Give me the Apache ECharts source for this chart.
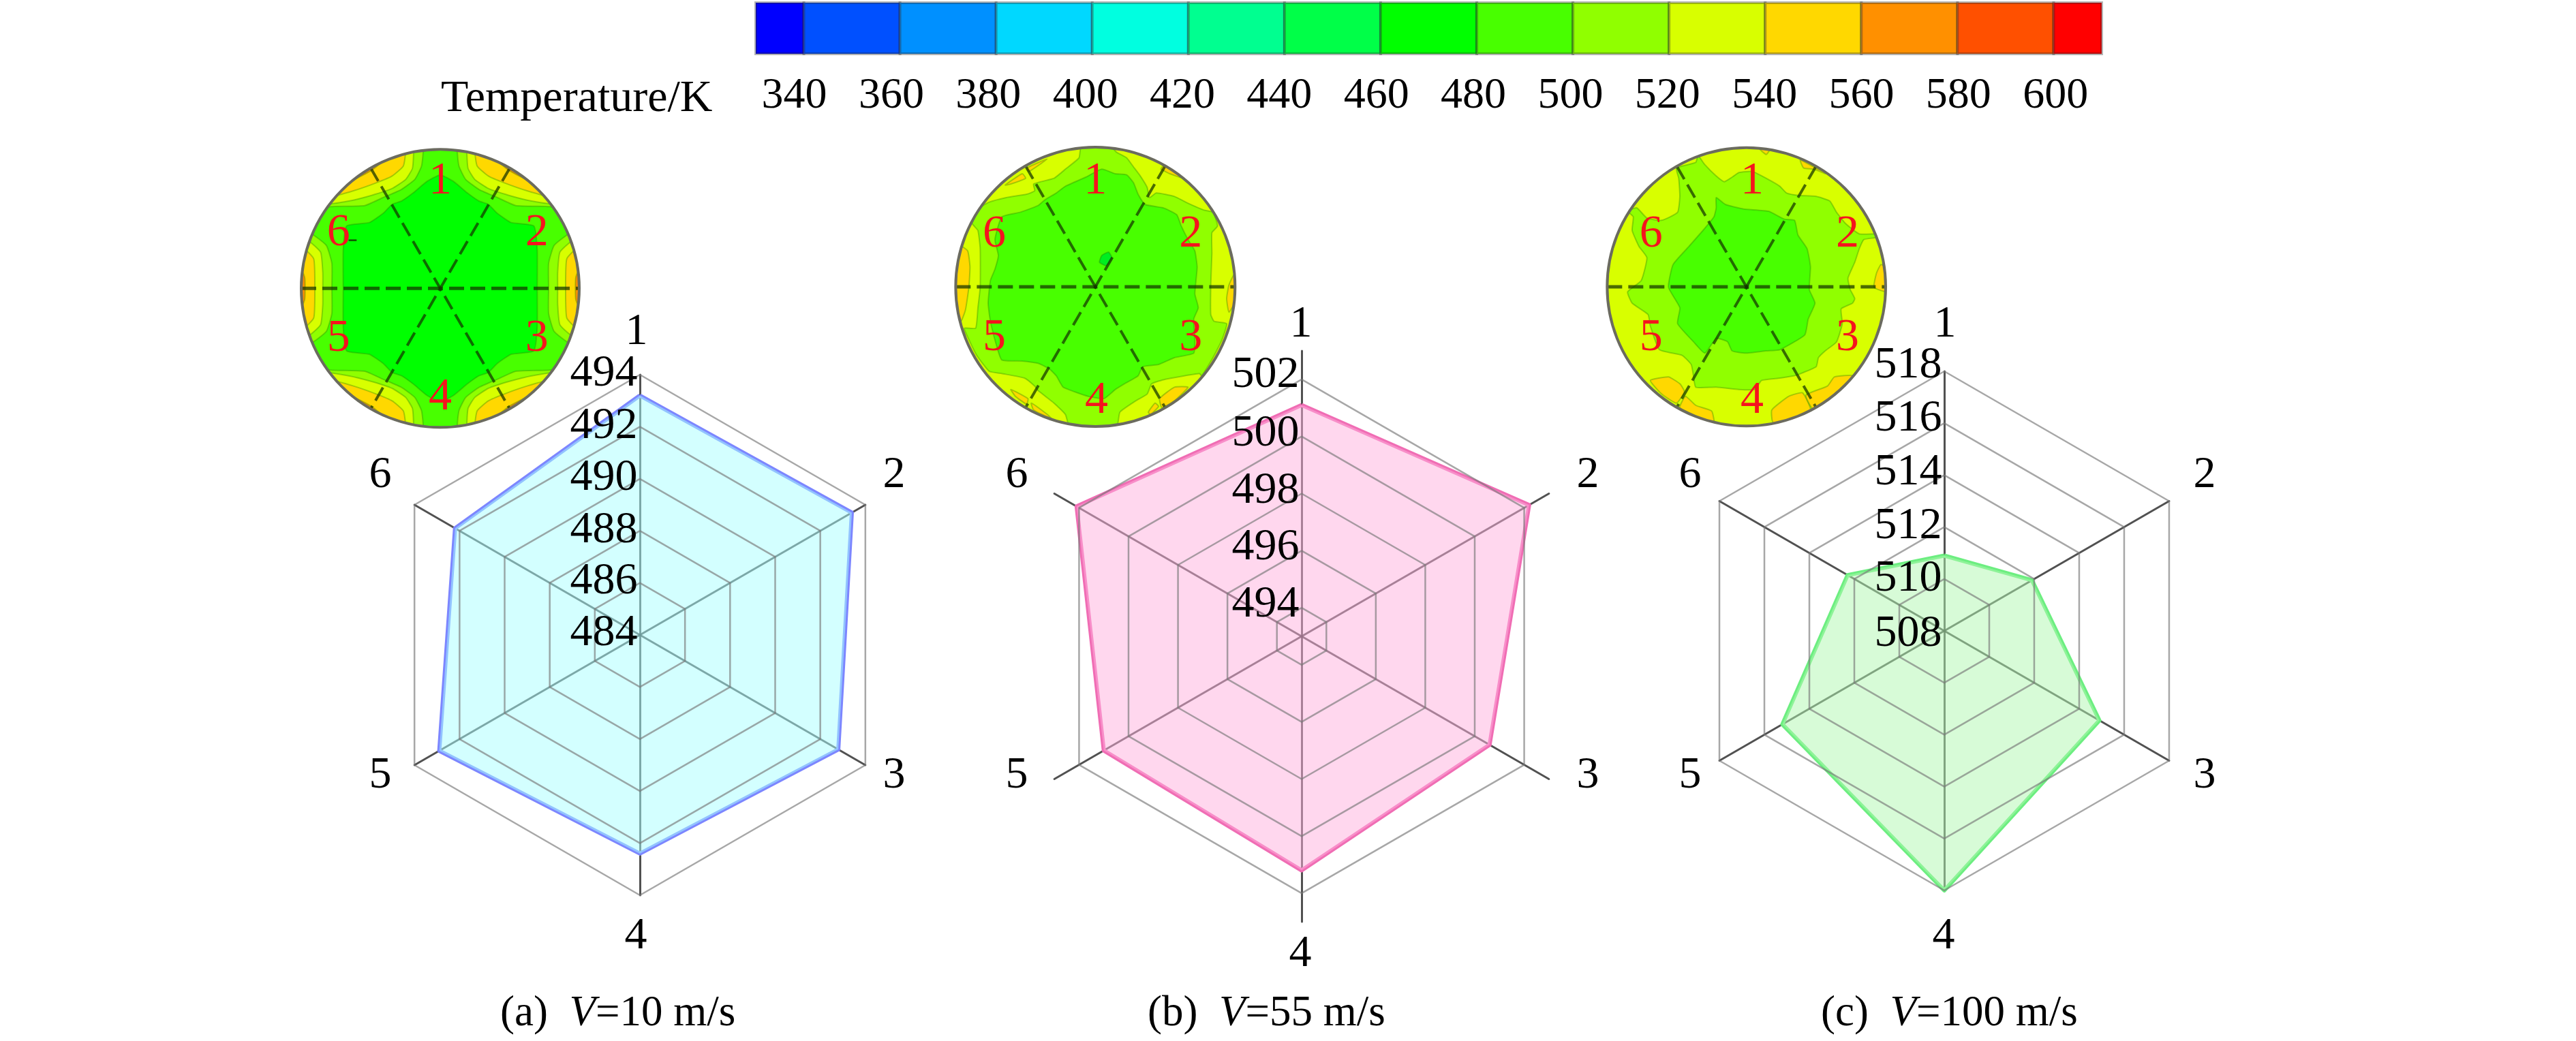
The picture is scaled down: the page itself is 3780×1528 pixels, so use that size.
<!DOCTYPE html>
<html><head><meta charset="utf-8"><style>html,body{margin:0;background:#fff}#c{width:3780px;height:1528px}</style>
<script src="https://cdn.jsdelivr.net/npm/echarts@6/dist/echarts.min.js"></script></head>
<body><div id="c"></div><script>
// ---------- data ----------
const sectorNames = ['1','6','5','4','3','2'];           // radar runs counter-clockwise from the top
const valuesA = [493.2,492.2,492.9,492.4,492.8,493.4];
const valuesB = [501.1,502.1,501.0,501.2,500.6,502.2];
const valuesC = [510.9,512.3,515.2,518.0,514.9,511.9];
const ringsA = [484,486,488,490,492,494];
const ringsB = [494,496,498,500,502];
const ringsC = [508,510,512,514,516,518];
const ringNudgeA = [-2,-2,-1,-1,-1,-1];
const ringNudgeB = [-4,-5,-4,-4,-6];
const ringNudgeC = [5,0,-1,-4,-7,-8];
const legendEdges = [330,340,360,380,400,420,440,460,480,500,520,540,560,580,600,610];
const legendColors = ['#0000FF','#0050FF','#0090FF','#00D8FF','#00FFE0','#00FF90','#00FF48','#00FF00','#48FF00','#90FF00','#D8FF00','#FFD800','#FF9000','#FF5000','#FF0000'];
const captions = [['(a)  ','10 m/s'],['(b)  ','55 m/s'],['(c)  ','100 m/s']];
const captionLeft = [729,1679,2667];
const nameOrder = ['1','2','3','4','5','6'];
const nameSpotsA = [[934,488],[1312,698],[1312,1139],[933,1375],[558,1139],[558,698]];
const nameSpotsB = [[1909,477],[2330,698],[2330,1139],[1908,1401],[1492,1139],[1492,698]];
const nameSpotsC = [[2854,477],[3235,698],[3235,1139],[2852,1375],[2480,1139],[2480,698]];

// contour outlines of the insets (inset units)
const aCore = [[0,-500],[60,-470],[120,-420],[170,-385],[212,-370],[252,-330],[312,-290],[412,-275],[427,-170],[427,0]];
const aCornerLevels = [
 ['#90FF00',[[77,-640],[82,-540],[112,-480],[172,-435],[252,-400],[332,-365],[482,-360],[560,-345],[640,-420],[420,-640],[170,-690]]],
 ['#D8FF00',[[120,-640],[122,-530],[152,-480],[212,-440],[302,-410],[402,-385],[520,-370],[640,-420],[420,-640],[190,-690]]],
 ['#FFD800',[[152,-640],[162,-540],[212,-495],[282,-465],[382,-430],[480,-405],[640,-420],[420,-640],[210,-690]]],
 ['#FF9000',[[225,-590],[302,-520],[392,-472],[460,-440],[640,-440],[420,-660],[260,-660]]]
];
const aSideLevels = [
 ['#90FF00',[[590,-250],[502,-190],[477,-110],[477,0],[477,110],[502,190],[590,250],[700,110],[700,0],[700,-110]]],
 ['#D8FF00',[[600,-220],[527,-160],[517,-70],[517,0],[517,70],[527,160],[600,220],[700,110],[700,0],[700,-110]]],
 ['#FFD800',[[610,-180],[557,-130],[552,0],[557,130],[610,180],[700,70],[700,0],[700,-70]]],
 ['#FF9000',[[625,-110],[597,-50],[595,0],[597,50],[625,110],[700,0]]]
];
const aStub = [[-403,-216],[-368,-216],[-368,-208],[-403,-208]];
const bLime = [[590,30],[580,80],[520,130],[470,170],[380,195],[385,225],[350,240],[260,255],[185,275],[150,295],[120,340],[110,370],[135,400],[145,480],[145,650],[135,740],[125,830],[75,830],[95,880],[130,950],[185,1020],[240,1030],[340,1050],[385,1085],[400,1105],[470,1160],[520,1210],[540,1265],[745,1265],[760,1200],[830,1150],[880,1120],[900,1075],[960,1055],[1110,1030],[1120,1040],[1170,960],[1210,880],[1230,810],[1175,800],[1160,770],[1160,640],[1165,500],[1165,410],[1190,380],[1170,320],[1130,310],[1060,280],[1000,250],[920,235],[890,255],[880,210],[850,160],[820,120],[790,80],[745,55],[720,30]];
const bCore = [[680,130],[740,150],[790,155],[820,190],[840,240],[870,285],[950,300],[1010,330],[1030,380],[1060,440],[1090,490],[1100,560],[1095,620],[1090,680],[1105,740],[1085,790],[1090,870],[1085,940],[1000,960],[930,990],[860,1000],[840,1040],[780,1075],[740,1100],[690,1140],[620,1130],[560,1110],[510,1090],[480,1040],[450,1010],[400,985],[330,975],[240,970],[215,900],[190,800],[180,720],[190,620],[210,570],[225,510],[210,440],[240,340],[320,320],[400,290],[430,265],[480,235],[520,205],[610,165]];
const bHot = [
 [[90,490],[60,470],[30,600],[35,730],[60,800],[80,750],[95,650],[100,560]],
 [[1240,640],[1230,700],[1240,760],[1275,700],[1280,640],[1265,590]],
 [[360,140],[440,85],[350,125]],
 [[255,200],[330,150],[345,170],[280,195]],
 [[940,130],[960,105],[1040,170],[980,150],[950,135]],
 [[280,1100],[355,1140],[350,1165],[300,1130]],
 [[370,1160],[440,1210],[460,1230],[380,1190]],
 [[935,1140],[1000,1090],[1060,1090],[1000,1150],[945,1180]],
 [[885,1200],[915,1160],[930,1175],[895,1210]]
];
const bCoolSpot = [[680,510],[710,495],[725,520],[700,555],[670,540]];
const cLime = [[440,70],[470,110],[520,160],[555,185],[590,165],[620,145],[680,140],[740,170],[800,205],[830,235],[880,245],[960,250],[1020,270],[1050,320],[1090,370],[1150,415],[1235,415],[1230,430],[1170,440],[1150,480],[1130,540],[1100,610],[1110,660],[1130,700],[1120,720],[1070,745],[1075,810],[1050,890],[1000,930],[970,960],[960,1000],[880,1035],[860,1040],[800,1050],[720,1060],[690,1100],[620,1100],[520,1090],[430,1090],[420,1040],[410,990],[370,950],[270,925],[230,820],[220,770],[150,720],[130,670],[190,620],[215,520],[180,470],[150,400],[155,340],[130,315],[170,300],[215,345],[280,355],[350,320],[360,250],[355,170],[345,125],[430,100]];
const cCore = [[520,255],[560,285],[640,305],[750,315],[820,350],[865,355],[880,420],[920,480],[935,560],[930,660],[955,720],[925,790],[910,860],[800,925],[740,930],[650,940],[590,930],[570,890],[520,875],[470,940],[420,890],[350,810],[360,740],[310,650],[330,550],[400,470],[470,390],[510,340],[520,300]];
const cHot = [
 [[230,1060],[310,1045],[360,1075],[380,1110],[345,1160],[280,1120]],
 [[385,1130],[430,1170],[500,1195],[510,1250],[440,1220],[360,1180]],
 [[765,1190],[840,1130],[900,1115],[935,1190],[850,1240],[770,1245]],
 [[915,1125],[1010,1085],[1040,1045],[1125,1040],[1080,1120],[950,1190]],
 [[1225,590],[1245,550],[1275,570],[1275,670],[1215,650]],
 [[890,90],[940,115],[1000,150],[950,130],[905,125]],
 [[710,40],[755,45],[740,65]]
];
const labelXYA = [[0,-473],[425,-245],[425,220],[0,480],[-448,220],[-448,-245]];
const labelXYB = [[0,-465],[420,-230],[420,225],[5,500],[-445,225],[-445,-230]];
const labelXYC = [[25,-465],[445,-230],[445,225],[25,500],[-420,225],[-420,-230]];
const labelNames = ['1','2','3','4','5','6'];

// ---------- inset layers ----------
const flips = [[1,1],[-1,1],[1,-1],[-1,-1]];
const flip = (pts,f) => pts.map(p => [p[0]*f[0], p[1]*f[1]]);
function insetALayers(){
  const out = [{fill:'#48FF00', base:true}];
  aCornerLevels.forEach(l => flips.forEach(f => out.push({fill:l[0], pts:flip(l[1],f)})));
  aSideLevels.forEach(l => [[1,1],[-1,1]].forEach(f => out.push({fill:l[0], pts:flip(l[1],f)})));
  const core = aCore.concat(flip(aCore,[1,-1]).reverse().slice(1), flip(aCore,[-1,-1]).slice(1), flip(aCore,[-1,1]).reverse().slice(1,-1));
  out.push({fill:'#00FF00', pts:core});
  return out;
}
function insetBLayers(){
  return [{fill:'#D8FF00', base:true}]
   .concat(bHot.map(p => ({fill:'#FFD800', pts:p})))
   .concat([{fill:'#90FF00', pts:bLime},{fill:'#48FF00', pts:bCore},{fill:'#00EE20', pts:bCoolSpot}]);
}
function insetCLayers(){
  return [{fill:'#D8FF00', base:true}]
   .concat(cHot.map(p => ({fill:'#FFD800', pts:p})))
   .concat([{fill:'#90FF00', pts:cLime},{fill:'#48FF00', pts:cCore}]);
}
const SERIF = 'Liberation Serif';
const insets = [
 {box:[430,200,460], x:[-648,732], y:[-670,710], c:[0,0],     R:612, labels:labelXYA, layers:insetALayers(), stub:aStub},
 {box:[1390,205,440],x:[0,1320],   y:[0,1320],   c:[652,648], R:615, labels:labelXYB, layers:insetBLayers()},
 {box:[2345,205,440],x:[0,1320],   y:[0,1320],   c:[653,648], R:613, labels:labelXYC, layers:insetCLayers()}
];
function insetSeries(ins, gi){
  const items = [];
  ins.layers.forEach(l => items.push(l));
  [0,60,120].forEach(a => items.push({spoke:a}));
  if (ins.stub) items.push({fill:'rgba(20,50,0,0.8)', pts:ins.stub, plain:true});
  items.push({outline:true});
  ins.labels.forEach((p,i) => items.push({text:labelNames[i], at:[ins.c[0]+p[0], ins.c[1]+p[1]]}));
  return {type:'custom', coordinateSystem:'cartesian2d', xAxisIndex:gi+2, yAxisIndex:gi+2, silent:true, z:5,
    data: items.map((_,i)=>[i]),
    encode:{x:0,y:0},
    renderItem(params, api){
      const it = items[api.value(0)];
      const ctr = api.coord(ins.c);
      const rpx = Math.abs(api.coord([ins.c[0]+ins.R, ins.c[1]])[0]-ctr[0]);
      const clip = {type:'circle', shape:{cx:ctr[0],cy:ctr[1],r:rpx}};
      if (it.base) return {type:'circle', shape:{cx:ctr[0],cy:ctr[1],r:rpx}, style:{fill:it.fill}};
      if (it.plain) return {type:'polygon', shape:{points:it.pts.map(p=>api.coord(p))}, style:{fill:it.fill}};
      if (it.pts) return {type:'polygon', shape:{points:it.pts.map(p=>api.coord(p)), smooth:0.15}, style:{fill:it.fill, stroke:'rgba(40,130,0,0.35)', lineWidth:2}, clipPath:clip};
      if (it.spoke!==undefined){
        const t = it.spoke*Math.PI/180, dx = Math.cos(t)*ins.R, dy = Math.sin(t)*ins.R;
        const a = api.coord([ins.c[0]-dx,ins.c[1]-dy]), b = api.coord([ins.c[0]+dx,ins.c[1]+dy]);
        return {type:'line', shape:{x1:a[0],y1:a[1],x2:b[0],y2:b[1]}, style:{stroke:'rgba(20,50,0,0.72)', lineWidth:it.spoke===0?5:4, lineDash:[22,9]}};
      }
      if (it.outline) return {type:'circle', shape:{cx:ctr[0],cy:ctr[1],r:rpx}, style:{fill:'none', stroke:'#6b6b5f', lineWidth:4}};
      const pos = api.coord(it.at);
      return {type:'text', style:{text:it.text, x:pos[0], y:pos[1], fill:'#F5141E', font:'68px "'+SERIF+'"', align:'center', verticalAlign:'middle'}};
    }};
}

// ---------- radars ----------
const panels = [
 {center:[939,932],  r:382, min:484, max:494, values:valuesA, rings:ringsA, nudge:ringNudgeA, names:nameSpotsA, line:'#7C86FF', fill:'#A8FFFF'},
 {center:[1910,934], r:419, min:493, max:503, values:valuesB, rings:ringsB, nudge:ringNudgeB, names:nameSpotsB, line:'#F06DB4', fill:'#FFB0DD'},
 {center:[2853,926], r:381, min:508, max:518, values:valuesC, rings:ringsC, nudge:ringNudgeC, names:nameSpotsC, line:'#6CEE80', fill:'#B0F8B0'}
];
const radar = panels.map(p => ({
  center:p.center, radius:[0,p.r], startAngle:90, shape:'polygon', splitNumber:5,
  indicator:sectorNames.map(n => ({name:n, min:p.min, max:p.max})),
  axisName:{show:false},
  axisLine:{show:true, lineStyle:{color:'rgba(50,50,50,0.85)', width:3}},
  splitLine:{show:false}, splitArea:{show:false}, axisTick:{show:false}, axisLabel:{show:false}
}));
const radarSeries = [];
panels.forEach((p,i) => {
  radarSeries.push({type:'radar', radarIndex:i, symbol:'none', z:2,
    lineStyle:{color:p.line, width:6}, areaStyle:{color:p.fill, opacity:0.5},
    data:[{value:p.values}]});
  radarSeries.push({type:'radar', radarIndex:i, z:3, symbol:'circle', symbolSize:1,
    itemStyle:{color:'rgba(0,0,0,0)'},
    lineStyle:{color:'rgba(120,120,120,0.65)', width:2.5},
    data:p.rings.map((v,k) => ({value:sectorNames.map(()=>v),
      label:{show:true, position:'left', distance:3, offset:[0,p.nudge[k]], color:'#000', fontFamily:SERIF, fontSize:66,
        formatter:o => o.dimensionIndex===0 ? String(v) : ''}}))});
});

// ---------- option ----------
const legendData = legendColors.map((c,i)=>[legendEdges[i],legendEdges[i+1],i]);
const grids = [{left:1109,top:4,width:1975,height:75},{left:1165.6,top:100,width:1850.6,height:1}]
  .concat(insets.map(s=>({left:s.box[0],top:s.box[1],width:s.box[2],height:s.box[2]})));
const xAxes = [
  {gridIndex:0,type:'value',min:330,max:610,show:false},
  {gridIndex:1,type:'value',min:340,max:600,interval:20,axisLine:{show:false},axisTick:{show:false},splitLine:{show:false},
   axisLabel:{color:'#000',fontFamily:SERIF,fontSize:64,margin:8,showMinLabel:true,showMaxLabel:true}}
].concat(insets.map((s,i)=>({gridIndex:i+2,type:'value',min:s.x[0],max:s.x[1],show:false})));
const yAxes = [
  {gridIndex:0,type:'value',min:0,max:1,show:false},
  {gridIndex:1,type:'value',min:0,max:1,show:false}
].concat(insets.map((s,i)=>({gridIndex:i+2,type:'value',min:s.y[0],max:s.y[1],inverse:true,show:false})));

const nameTitles = [];
panels.forEach(p => nameOrder.forEach((n,i) => nameTitles.push({
  text:n, left:p.names[i][0], top:p.names[i][1], textAlign:'center', textVerticalAlign:'middle', padding:0,
  textStyle:{color:'#000',fontFamily:SERIF,fontSize:66,fontWeight:'normal'}})));
const option = {
  backgroundColor:'#fff', animation:false,
  title:[{text:'Temperature/K',left:642,top:108,textStyle:{color:'#000',fontFamily:SERIF,fontSize:66,fontWeight:'normal'}}]
    .concat(captions.map((c,i)=>({left:captionLeft[i],top:1452,
      text:'{n|'+c[0]+'}{i|V}{n|='+c[1]+'}',
      textStyle:{rich:{n:{fontFamily:SERIF,fontSize:63,fontWeight:'normal',color:'#000'},i:{fontFamily:SERIF,fontSize:63,fontWeight:'normal',fontStyle:'italic',color:'#000'}}}})), nameTitles),
  grid:grids, xAxis:xAxes, yAxis:yAxes, radar,
  series:[{type:'custom',coordinateSystem:'cartesian2d',xAxisIndex:0,yAxisIndex:0,silent:true,
      data:legendData, encode:{x:[0,1]},
      renderItem(params,api){
        const a=api.coord([api.value(0),1]), b=api.coord([api.value(1),0]);
        return {type:'rect',shape:{x:a[0],y:a[1],width:b[0]-a[0],height:b[1]-a[1]},
          style:{fill:legendColors[api.value(2)],stroke:'rgba(40,40,40,0.35)',lineWidth:4}};
      }},
      {type:'line',xAxisIndex:1,yAxisIndex:1,data:[],silent:true}
    ].concat(radarSeries, insets.map(insetSeries))
};
echarts.init(document.getElementById('c'),null,{renderer:'canvas'}).setOption(option);
</script></body></html>
